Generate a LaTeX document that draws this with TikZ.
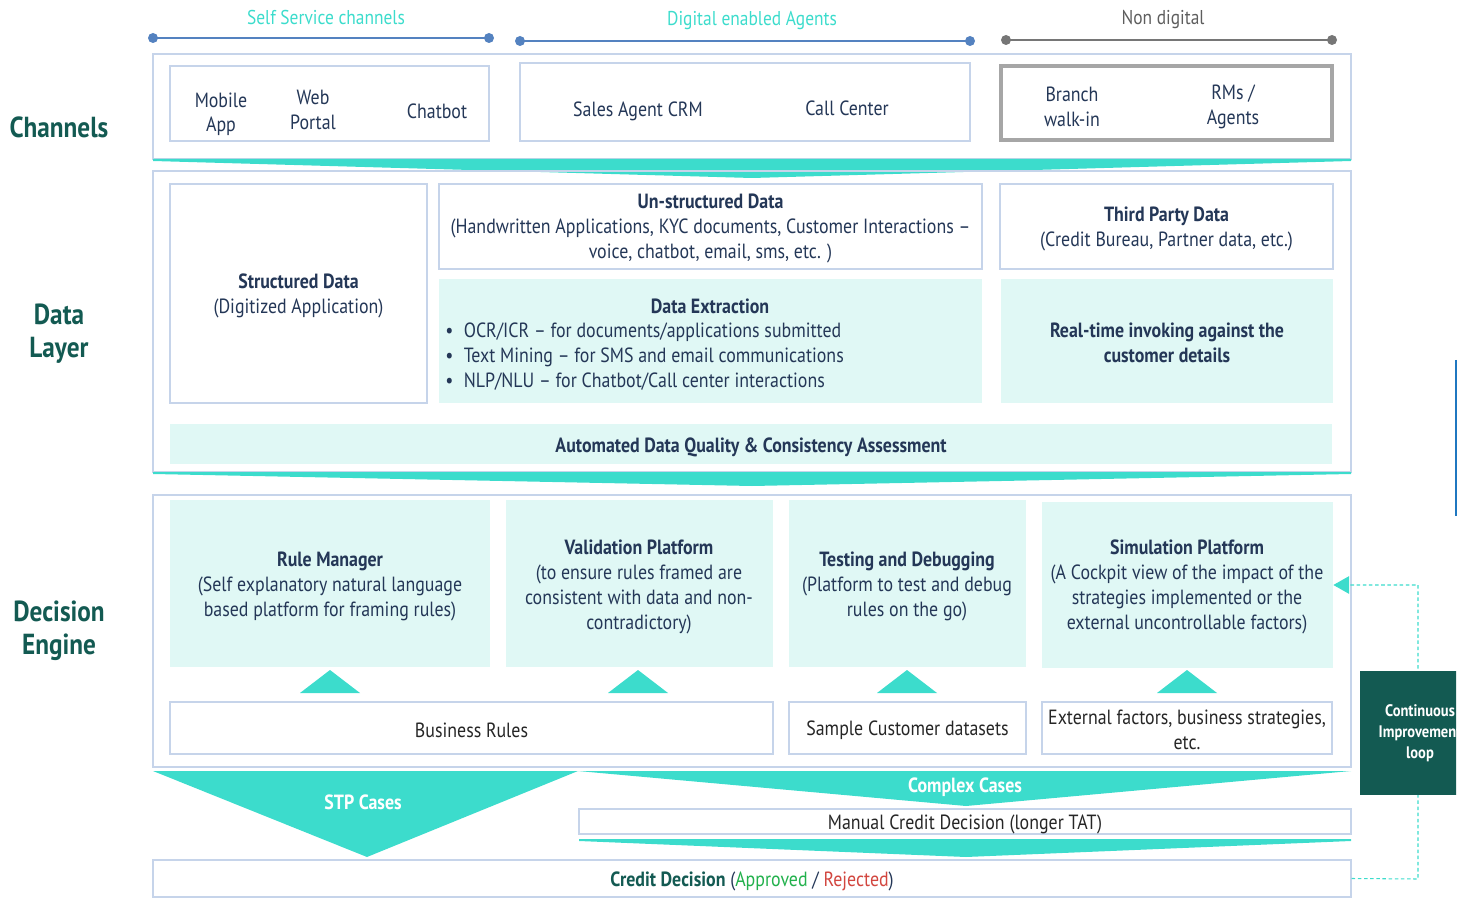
\documentclass[tikz,border=0pt]{standalone}
\usepackage{fontspec}
\setmainfont[FakeStretch=0.87]{PT Sans}
\usetikzlibrary{fit,arrows.meta}

\definecolor{tealband}{HTML}{3CDCCC}
\definecolor{paleaqua}{HTML}{E0F8F5}
\definecolor{frameblue}{HTML}{C6D4EA}
\definecolor{inkblue}{HTML}{243757}
\definecolor{deepteal}{HTML}{135A52}
\definecolor{dotblue}{HTML}{5482C0}
\definecolor{dotgray}{HTML}{767676}
\definecolor{okgreen}{HTML}{22B14C}
\definecolor{nored}{HTML}{D2463F}
\definecolor{edgeblue}{HTML}{1F77C0}

\tikzset{
  layer/.style={draw=frameblue, line width=0.6pt, inner sep=0pt},
  panel/.style={draw=frameblue, line width=0.8pt, fill=white, inner sep=0pt},
  aqua/.style={fill=paleaqua, inner sep=0pt},
  txt/.style={align=center, text=inkblue, yshift=-1.3pt},
  btxt/.style={align=center, text=inkblue, yshift=-1.3pt, font=\fontsize{11.7}{14.2}\selectfont\bfseries},
  heading/.style={font=\fontsize{16.5}{18.7}\selectfont\bfseries, text=deepteal, align=center},
  toplabel/.style={font=\fontsize{11.4}{13}\selectfont},
  band/.style={fill=tealband},
  bracket/.style={line width=0.9pt},
  loopline/.style={draw=tealband, line width=0.6pt, dash pattern=on 2pt off 1.5pt}
}

\begin{document}
\begin{tikzpicture}[x=0.02cm, y=-0.02cm, font=\fontsize{11.7}{14.2}\selectfont]
    \useasboundingbox (0,0) rectangle (1467,898);

    % Side headings
    \node[heading] (hchan) at (59,127) {Channels};
    \node[heading] (hdata) at (59,334) {Data\\Layer};
    \node[heading] (hdec) at (59,631) {Decision\\Engine};

    % Channel groups on top
    \draw[bracket, dotblue] (153,38) -- (489,38);
    \fill[dotblue] (153,38) circle (5) (489,38) circle (5);
    \node[toplabel, text=tealband] (lself) at (326,17) {Self Service channels};
    \draw[bracket, dotblue] (520,41) -- (970,41);
    \fill[dotblue] (520,41) circle (5) (970,41) circle (5);
    \node[toplabel, text=tealband] (ldigi) at (752,21) {Digital enabled Agents};
    \draw[bracket, dotgray] (1006,40) -- (1332,40);
    \fill[dotgray] (1006,40) circle (5) (1332,40) circle (5);
    \node[toplabel, text=dotgray!80!black] (lnon) at (1163,20) {Non digital};

    % Channels layer
    \node[layer, fit={(153,54)(1351,159)}] (chan) {};
    \node[panel, fit={(170,66)(489,141)}] (self) {};
    \node[txt] (mobile) at (221,112) {Mobile\\App};
    \node[txt] (web) at (313,108) {Web\\Portal};
    \node[txt] (chatbot) at (437,109) {Chatbot};
    \node[panel, fit={(520,63)(970,141)}] (agents) {};
    \node[txt] (crm) at (638,109) {Sales Agent CRM};
    \node[txt] (call) at (847,106) {Call Center};
    \node[panel, draw=black!35, line width=2pt, fit={(1001,66)(1332,140)}] (nondig) {};
    \node[txt] (branch) at (1072,105) {Branch\\walk-in};
    \node[txt] (rms) at (1233,105) {RMs /\\Agents};
    \fill[band] (153,159) -- (1351,159) -- (1351,161) -- (752,178) -- (153,161) -- cycle;

    % Data layer
    \node[layer, fit={(153,171)(1351,472)}] (data) {};
    \node[panel, fit={(170,184)(427,403)}] (struct) {};
    \node[txt] at (struct.center) {\textbf{Structured Data}\\(Digitized Application)};
    \node[panel, fit={(439,184)(982,269)}] (unstruct) {};
    \node[txt] at (unstruct.center) {\textbf{Un-structured Data}\\(Handwritten Applications, KYC documents, Customer Interactions --\\voice, chatbot, email, sms, etc. )};
    \node[panel, fit={(1000,184)(1333,269)}] (third) {};
    \node[txt] at (third.center) {\textbf{Third Party Data}\\(Credit Bureau, Partner data, etc.)};
    \node[aqua, fit={(439,279)(982,403)}] (extract) {};
    \node[btxt] (extitle) at (710,304) {Data Extraction};
    \node[anchor=west, align=left, text=inkblue, inner sep=0pt, yshift=-1.3pt] (exlist) at (445,354) {%
      \makebox[10.5pt][l]{\textbullet}OCR/ICR -- for documents/applications submitted\\
      \makebox[10.5pt][l]{\textbullet}Text Mining -- for SMS and email communications\\
      \makebox[10.5pt][l]{\textbullet}NLP/NLU -- for Chatbot/Call center interactions};
    \node[aqua, fit={(1001,279)(1333,403)}] (realtime) {};
    \node[btxt] at (1167,341) {Real-time invoking against the\\customer details};
    \node[aqua, fit={(170,424)(1332,464)}] (quality) {};
    \node[btxt] at (751,445) {Automated Data Quality \& Consistency Assessment};
    \fill[band] (153,472) -- (1351,472) -- (1351,474) -- (752,486) -- (153,474) -- cycle;

    % Decision engine
    \node[layer, fit={(153,495)(1351,767)}] (engine) {};
    \node[aqua, fit={(170,500)(490,667)}] (rules) {};
    \node[txt] at (330,584) {\textbf{Rule Manager}\\(Self explanatory natural language\\based platform for framing rules)};
    \node[aqua, fit={(506,500)(773,667)}] (valid) {};
    \node[txt] at (639,585) {\textbf{Validation Platform}\\(to ensure rules framed are\\consistent with data and non-\\contradictory)};
    \node[aqua, fit={(789,500)(1026,667)}] (testing) {};
    \node[txt] at (907,584) {\textbf{Testing and Debugging}\\(Platform to test and debug\\rules on the go)};
    \node[aqua, fit={(1042,502)(1333,668)}] (sim) {};
    \node[txt] at (1187,585) {\textbf{Simulation Platform}\\(A Cockpit view of the impact of the\\strategies implemented or the\\external uncontrollable factors)};
    \foreach \cx in {330,638,907,1187}
        \fill[band] (\cx-30,693) -- (\cx+30,693) -- (\cx,670) -- cycle;
    \node[panel, fit={(170,702)(773,754)}] (bizrules) {};
    \node[txt, text=black!85] at (bizrules.center) {Business Rules};
    \node[panel, fit={(789,702)(1026,754)}] (sample) {};
    \node[txt, text=black!85] at (sample.center) {Sample Customer datasets};
    \node[panel, fit={(1042,702)(1332,754)}] (external) {};
    \node[txt, text=black!85] at (external.center) {External factors, business strategies,\\etc.};

    % Outcomes
    \fill[band] (153,771) -- (578,771) -- (367,857) -- cycle;
    \node[btxt, text=white] (stp) at (363,800) {STP Cases};
    \fill[band] (578,771) -- (1351,771) -- (966,806) -- cycle;
    \node[btxt, text=white] (complex) at (965,785) {Complex Cases};
    \node[panel, fit={(579,809)(1351,834)}] (manual) {};
    \node[txt, text=black!85] at (965,822) {Manual Credit Decision (longer TAT)};
    \fill[band] (579,839) -- (1351,839) -- (1351,841) -- (966,857) -- (579,841) -- cycle;
    \node[panel, fit={(153,860)(1351,897)}] (credit) {};
    \node[txt] at (752,879) {\textcolor{deepteal}{\textbf{Credit Decision}} (\textcolor{okgreen}{Approved} / \textcolor{nored}{Rejected})};

    % Improvement loop
    \coordinate (loopdown) at (1418,879);
    \coordinate (loopup) at (1418,585);
    \draw[loopline, -{Triangle[length=9pt, width=10pt, fill=tealband]}] (credit.east) -- (loopdown) -- (loopup) -- (sim.east);
    \begin{scope}
        \clip (1360,671) rectangle (1456,795);
        \node[fill=deepteal, inner sep=0pt, fit={(1360,671)(1470,795)}] (loopbox) {};
        \node[text=white, align=center, font=\fontsize{9.5}{12}\selectfont\bfseries] (looptext) at (1420,733) {Continuous\\Improvement\\loop};
    \end{scope}
    \draw[edgeblue, line width=1pt] (1456,360) -- (1456,516);

\end{tikzpicture}
\end{document}
